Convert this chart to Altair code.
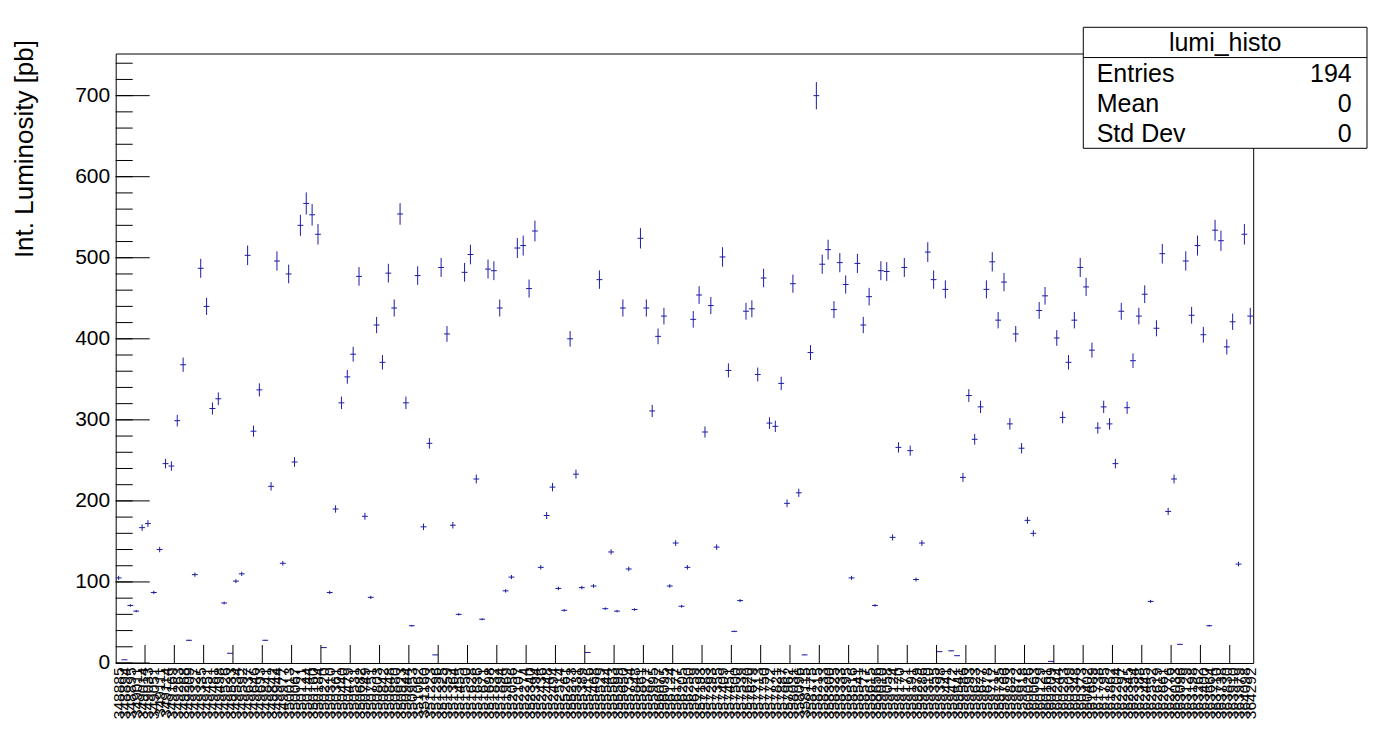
import altair as alt
import pandas as pd

RUNS = [
    "348885", "348894", "348895", "349011", "349014", "349033", "349051", "349111", "349114", "349169",
    "349263", "349268", "349309", "349327", "349335", "349451", "349481", "349498", "349526", "349533",
    "349534", "349592", "349637", "349646", "349693", "349841", "349842", "349944", "349977", "350013",
    "350067", "350121", "350144", "350160", "350184", "350220", "350310", "350361", "350440", "350479",
    "350531", "350682", "350749", "350751", "350803", "350842", "350848", "350880", "350923", "350944",
    "350953", "351062", "351160", "351223", "351296", "351325", "351359", "351364", "351455", "351550",
    "351628", "351636", "351671", "351698", "351832", "351894", "351969", "352056", "352107", "352274",
    "352340", "352394", "352436", "352448", "352494", "352514", "355261", "355273", "355331", "355389",
    "355416", "355468", "355529", "355544", "355563", "355599", "355650", "355754", "355848", "355861",
    "355877", "355995", "356077", "356095", "356124", "356177", "356205", "356250", "356259", "357193",
    "357283", "357293", "357355", "357409", "357451", "357500", "357539", "357620", "357679", "357713",
    "357750", "357772", "357821", "357887", "357962", "358031", "358096", "358115", "358175", "358215",
    "358233", "358300", "358325", "358333", "358395", "358516", "358541", "358577", "358615", "358656",
    "359010", "359058", "359124", "359170", "359171", "359191", "359279", "359286", "359310", "359355",
    "359398", "359441", "359472", "359541", "359586", "359593", "359623", "359677", "359678", "359717",
    "359735", "359766", "359823", "359872", "359918", "360026", "360063", "360129", "360161", "360209",
    "360244", "360293", "360309", "360348", "360373", "360402", "361689", "361738", "361795", "361862",
    "362204", "362297", "362345", "362354", "362388", "362445", "362552", "362619", "362661", "362776",
    "363033", "363096", "363129", "363198", "363262", "363400", "363664", "363710", "363738", "363830",
    "363910", "363979", "364098", "364292",
]

LUMI = [
    105, 4, 71, 64, 167, 172, 87, 140, 246, 243,
    299, 368, 28, 109, 487, 440, 314, 326, 74, 12,
    101, 110, 503, 286, 337, 28, 218, 496, 123, 480,
    248, 540, 567, 553, 529, 19, 87, 190, 321, 353,
    381, 477, 181, 81, 417, 371, 481, 438, 554, 321,
    46, 478, 168, 271, 10, 488, 406, 170, 60, 482,
    504, 227, 54, 486, 484, 438, 89, 106, 512, 515,
    462, 533, 118, 182, 217, 92, 65, 400, 233, 93,
    13, 95, 473, 67, 137, 64, 438, 116, 66, 524,
    438, 311, 403, 428, 95, 148, 70, 118, 424, 454,
    285, 441, 143, 501, 361, 39, 77, 434, 437, 356,
    475, 296, 292, 345, 197, 468, 210, 10, 383, 700,
    492, 510, 436, 494, 467, 105, 493, 417, 452, 71,
    484, 483, 155, 266, 488, 262, 103, 148, 507, 473,
    14, 461, 15, 9, 229, 330, 276, 316, 461, 495,
    423, 470, 295, 406, 265, 176, 160, 435, 453, 2,
    401, 303, 371, 423, 488, 464, 386, 290, 316, 295,
    246, 434, 315, 373, 428, 455, 76, 413, 505, 187,
    227, 23, 496, 429, 515, 405, 46, 534, 521, 390,
    421, 122, 529, 428,
]

REL_ERR = 0.024
Y_MAX = 752
Y_LABELS = [0, 100, 200, 300, 400, 500, 600, 700]
Y_MINOR = [0, 20, 40, 60, 80, 100, 120, 140, 160, 180, 200, 220, 240, 260, 280, 300, 320, 340,
           360, 380, 400, 420, 440, 460, 480, 500, 520, 540, 560, 580, 600, 620, 640, 660, 680,
           700, 720, 740]
X_TICKS = [5, 10, 15, 20, 25, 30, 35, 40, 45, 50, 55, 60, 65, 70, 75, 80, 85, 90, 95, 100,
           105, 110, 115, 120, 125, 130, 135, 140, 145, 150, 155, 160, 165, 170, 175, 180, 185, 190]
STAT_NAMES = ["Entries", "Mean", "Std Dev"]
STAT_VALUES = ["194", "0", "0"]
HIST_NAME = "lumi_histo"
Y_TITLE = "Int. Luminosity [pb]"

W, H = 1137.5, 609.5
COL = "#1c1ca6"
FONT = "Liberation Sans"

df = pd.DataFrame({"i": list(range(len(LUMI))), "v": LUMI, "run": RUNS})

xs = alt.Scale(domain=[0, len(LUMI)], nice=False, zero=False)
ys = alt.Scale(domain=[0, Y_MAX], nice=False)

lab_arr = "[" + ",".join("'%s'" % r for r in RUNS) + "]"

XAX = alt.Axis(values=[k + 0.5 for k in range(len(LUMI))],
               labelExpr=lab_arr + "[floor(datum.value)]",
               labelAngle=-90, labelOverlap=False, labelBound=False, labelFlush=False,
               labelFont=FONT, labelFontSize=15.5, labelColor="black",
               labelPadding=4, ticks=False, domain=False, grid=False, title=None)
YAX = alt.Axis(values=Y_LABELS, ticks=False, domain=False, grid=False,
               labelFont=FONT, labelFontSize=21, labelColor="black", labelPadding=6,
               title=Y_TITLE,
               titleFont=FONT, titleFontSize=26, titleFontWeight="normal",
               titleColor="black", titleAngle=-90, titleAlign="right",
               titleBaseline="alphabetic", titleX=-83, titleY=-14, titleAnchor="end")

base = alt.Chart(df).transform_calculate(
    i1="datum.i + 1", c="datum.i + 0.5",
    lo="datum.v * (1 - %f)" % REL_ERR, hi="datum.v * (1 + %f)" % REL_ERR,
)

hbar = base.mark_rule(color=COL, strokeWidth=1).encode(
    x=alt.X("i:Q", scale=xs, axis=XAX, title=None),
    x2="i1:Q",
    y=alt.Y("v:Q", scale=ys, axis=YAX, title=Y_TITLE),
)

vbar = base.mark_rule(color=COL, strokeWidth=1).encode(
    x=alt.X("c:Q", scale=xs, axis=XAX, title=None),
    y=alt.Y("lo:Q", scale=ys, axis=YAX, title=Y_TITLE),
    y2="hi:Q",
)

xt = alt.Chart(pd.DataFrame({"t": X_TICKS})).mark_rule(color="black", strokeWidth=1).encode(
    x=alt.X("t:Q", scale=xs, axis=XAX, title=None),
    y=alt.value(H), y2=alt.value(H - 18),
)

ymaj = alt.Chart(pd.DataFrame({"t": Y_LABELS})).mark_rule(color="black", strokeWidth=1).encode(
    y=alt.Y("t:Q", scale=ys, axis=YAX, title=Y_TITLE), x=alt.value(0), x2=alt.value(34),
)
ymin = alt.Chart(pd.DataFrame({"t": Y_MINOR})).mark_rule(color="black", strokeWidth=1).encode(
    y=alt.Y("t:Q", scale=ys, axis=YAX, title=Y_TITLE), x=alt.value(0), x2=alt.value(17),
)

BX0, BX1, BY0, BY1 = 967.6, 1251.3, -26.2, 94.8
ROW = (BY1 - BY0) / 4

one = pd.DataFrame({"k": [0]})
box = alt.Chart(one).mark_rect(fill="white", stroke="black", strokeWidth=1).encode(
    x=alt.value(BX0), x2=alt.value(BX1), y=alt.value(BY0), y2=alt.value(BY1),
)
sep = alt.Chart(one).mark_rule(color="black", strokeWidth=1).encode(
    x=alt.value(BX0), x2=alt.value(BX1), y=alt.value(BY0 + ROW),
)
title_txt = alt.Chart(pd.DataFrame({"s": [HIST_NAME]})).mark_text(
    font=FONT, fontSize=25, color="black", align="center", baseline="middle"
).encode(text="s:N", x=alt.value((BX0 + BX1) / 2), y=alt.value(BY0 + ROW / 2 + 1))

stat_layers = []
for r, (nm, vl) in enumerate(zip(STAT_NAMES, STAT_VALUES)):
    yc = BY0 + ROW * (r + 1) + ROW / 2 + 1
    d = pd.DataFrame({"n": [nm], "val": [vl]})
    stat_layers.append(alt.Chart(d).mark_text(
        font=FONT, fontSize=25, color="black", align="left", baseline="middle"
    ).encode(text="n:N", x=alt.value(BX0 + 13.4), y=alt.value(yc)))
    stat_layers.append(alt.Chart(d).mark_text(
        font=FONT, fontSize=25, color="black", align="right", baseline="middle"
    ).encode(text="val:N", x=alt.value(BX1 - 15.3), y=alt.value(yc)))

chart = alt.layer(
    hbar, vbar, xt, ymaj, ymin, box, sep, title_txt, *stat_layers
).properties(
    width=W, height=H,
    autosize=alt.AutoSizeParams(type="none"),
    padding={"left": 107.7, "top": 45.5, "right": 117, "bottom": 60},
    background="white",
).configure_view(stroke="black", strokeWidth=1)

chart.save("out.html", embed_options={"renderer": "svg", "actions": False})
